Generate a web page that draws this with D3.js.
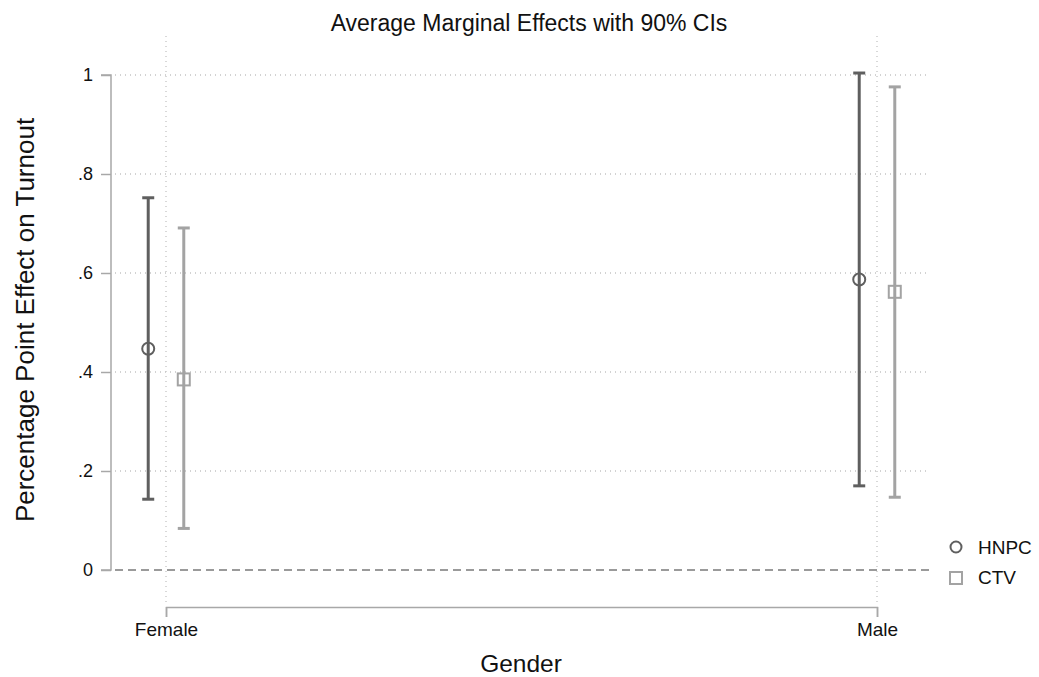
<!DOCTYPE html>
<html>
<head>
<meta charset="utf-8">
<script src="https://cdn.jsdelivr.net/npm/d3@7"></script>
<style>
body{margin:0;background:#fff;}
text{font-family:Arial,"Liberation Sans",sans-serif;fill:#111;}
</style>
</head>
<body>
<div id="chart"></div>
<script>
var groups = ["Female", "Male"];
var series = ["HNPC", "CTV"];
var est = {HNPC:[0.447, 0.587], CTV:[0.385, 0.562]};
var lo  = {HNPC:[0.143, 0.170], CTV:[0.084, 0.147]};
var hi  = {HNPC:[0.752, 1.004], CTV:[0.691, 0.976]};
var yTicks = [0, 0.2, 0.4, 0.6, 0.8, 1];
var yLabels = ["0", ".2", ".4", ".6", ".8", "1"];

var width = 1039, height = 677;
var col = {HNPC:"#5f5f5f", CTV:"#a3a3a3"};
var shift = {HNPC:-0.025, CTV:0.025};

var svg = d3.select("#chart").append("svg")
  .attr("width", width).attr("height", height);

var x = d3.scaleLinear().domain([0,1]).range([166,877]);
var y = d3.scaleLinear().domain([0,1]).range([570,75]);

// grid
svg.append("g").selectAll("line").data(yTicks.slice(1)).join("line")
  .attr("x1",115).attr("x2",930)
  .attr("y1",d=>y(d)).attr("y2",d=>y(d))
  .attr("stroke","#c4c4c4").attr("stroke-width",1.3).attr("stroke-dasharray","1,4");
svg.append("g").selectAll("line").data(groups).join("line")
  .attr("x1",(d,i)=>x(i)).attr("x2",(d,i)=>x(i))
  .attr("y1",36).attr("y2",604)
  .attr("stroke","#c4c4c4").attr("stroke-width",1.3).attr("stroke-dasharray","1,4");

// zero line
svg.append("line").attr("x1",115).attr("x2",930)
  .attr("y1",y(0)).attr("y2",y(0))
  .attr("stroke","#7a7a7a").attr("stroke-width",1.5).attr("stroke-dasharray","8,5");

// y axis
var yAxis = d3.axisLeft(y).tickValues(yTicks)
  .tickFormat((d,i)=>yLabels[i]).tickSize(10).tickPadding(8);
var gy = svg.append("g").attr("transform","translate(111,0)").call(yAxis);
gy.select(".domain").attr("stroke","#a8a8a8").attr("stroke-width",1.5).attr("d","M-10,"+y(1)+"H0V"+y(0)+"H-10");
gy.selectAll(".tick line").attr("stroke","#a8a8a8").attr("stroke-width",1.5);
gy.selectAll(".tick text").style("font-size","18px").attr("fill","#111");

// x axis
var xAxis = d3.axisBottom(x).tickValues([0,1])
  .tickFormat((d,i)=>groups[i]).tickSize(10).tickPadding(6);
var gx = svg.append("g").attr("transform","translate(0,607)").call(xAxis);
gx.select(".domain").attr("stroke","#a8a8a8").attr("stroke-width",1.5);
gx.selectAll(".tick line").attr("stroke","#a8a8a8").attr("stroke-width",1.5);
gx.selectAll(".tick text").style("font-size","19px").attr("fill","#111");

// error bars and markers
series.forEach(function(s){
  var g = svg.append("g");
  groups.forEach(function(gr, i){
    var cx = x(i + shift[s]);
    g.append("line").attr("x1",cx).attr("x2",cx)
      .attr("y1",y(lo[s][i])).attr("y2",y(hi[s][i]))
      .attr("stroke",col[s]).attr("stroke-width",3);
    [lo[s][i], hi[s][i]].forEach(function(v){
      g.append("line").attr("x1",cx-6).attr("x2",cx+6)
        .attr("y1",y(v)).attr("y2",y(v))
        .attr("stroke",col[s]).attr("stroke-width",3);
    });
    if (s === "HNPC") {
      g.append("circle").attr("cx",cx).attr("cy",y(est[s][i])).attr("r",6)
        .attr("fill","none").attr("stroke",col[s]).attr("stroke-width",2);
    } else {
      g.append("rect").attr("x",cx-6).attr("y",y(est[s][i])-6)
        .attr("width",12).attr("height",12)
        .attr("fill","none").attr("stroke",col[s]).attr("stroke-width",2);
    }
  });
});

// legend
var leg = svg.append("g").attr("transform","translate(956,547)");
leg.append("circle").attr("cx",0).attr("cy",0).attr("r",5.5)
  .attr("fill","none").attr("stroke",col.HNPC).attr("stroke-width",2);
leg.append("text").attr("x",22).attr("y",7).text("HNPC").style("font-size","19px");
leg.append("rect").attr("x",-6).attr("y",25).attr("width",12).attr("height",12)
  .attr("fill","none").attr("stroke",col.CTV).attr("stroke-width",2);
leg.append("text").attr("x",22).attr("y",37).text("CTV").style("font-size","19px");

// titles
svg.append("text").attr("x",529).attr("y",31).attr("text-anchor","middle")
  .style("font-size","23px").text("Average Marginal Effects with 90% CIs");
svg.append("text").attr("x",521).attr("y",672).attr("text-anchor","middle")
  .style("font-size","24.5px").text("Gender");
svg.append("text").attr("transform","translate(34,320) rotate(-90)")
  .attr("text-anchor","middle").style("font-size","26px")
  .text("Percentage Point Effect on Turnout");
</script>
</body>
</html>
